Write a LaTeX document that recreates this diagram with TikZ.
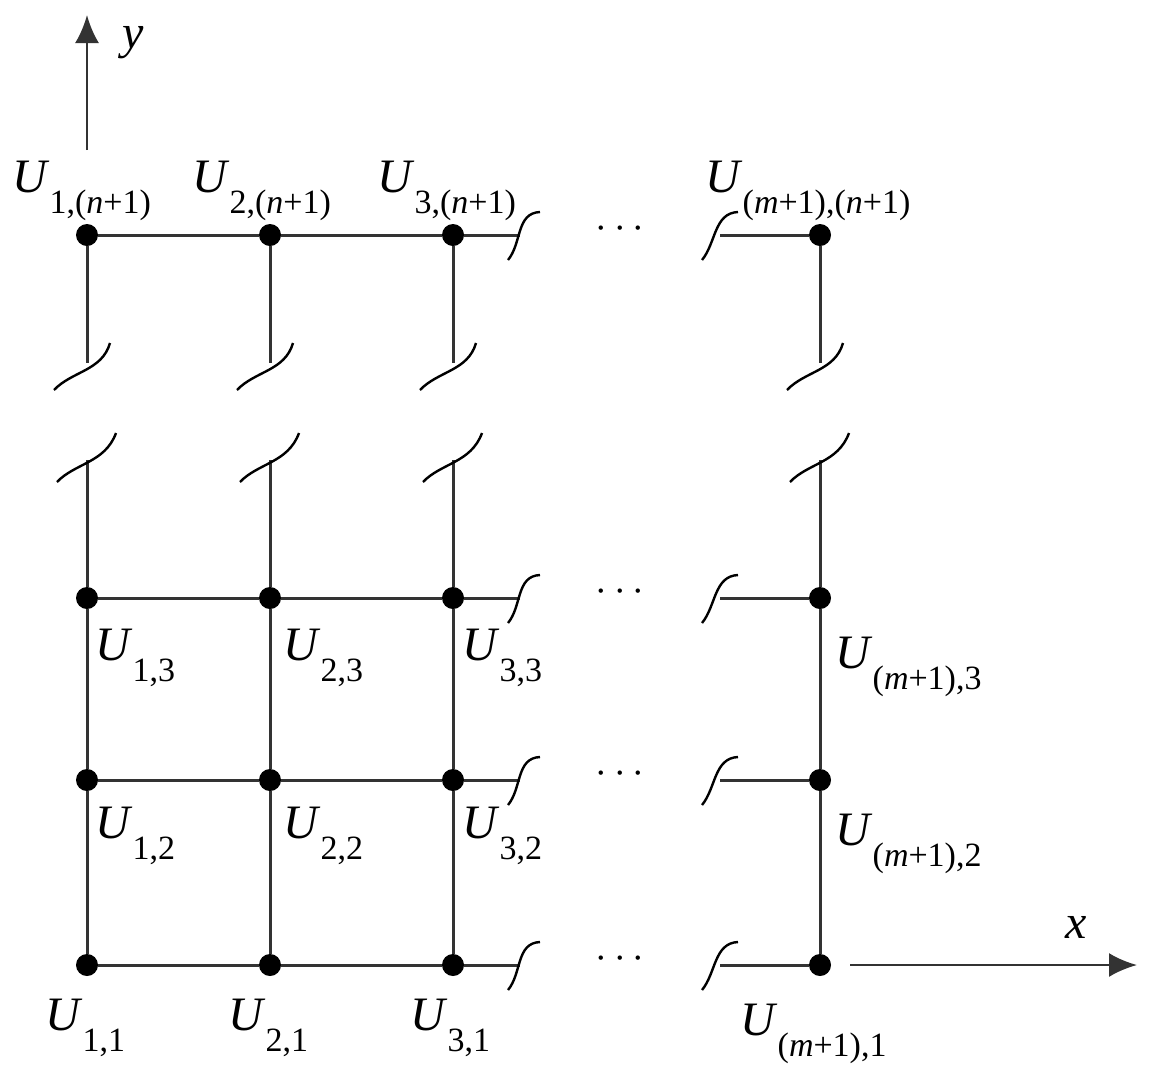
\documentclass[tikz,border=0pt]{standalone}
\usepackage{fontspec}
\setmainfont{Liberation Serif}
\usetikzlibrary{calc,arrows.meta}
\newcommand{\Ulab}[1]{\textit{U}\raisebox{-0.45em}{\fontsize{17}{20}\selectfont #1}}
\begin{document}
\begin{tikzpicture}[x=0.5pt,y=-0.5pt,
  ln/.style={line width=1.5pt,draw=black!80},
  brk/.style={line width=1.2pt},
  pt/.style={circle,fill=black,inner sep=0pt,minimum size=11pt},
  lab/.style={anchor=base west,inner sep=0pt,font=\fontsize{24}{28}\selectfont},
  dotsn/.style={inner sep=0pt,font=\fontsize{20}{24}\selectfont}]
\useasboundingbox (0,0) rectangle (1160,1072);
% grid nodes
\foreach \c/\x in {1/87,2/270,3/453,4/820}{
  \foreach \r/\y in {1/965,2/780,3/598,4/235}{
    \node[pt] (p\c\r) at (\x,\y) {};
  }
}
% horizontal lines and breaks
\foreach \r/\y in {1/965,2/780,3/598,4/235}{
  \coordinate (hl\r) at (520,\y);
  \coordinate (hr\r) at (720,\y);
  \draw[ln] (p1\r) -- (p2\r) -- (p3\r) -- (hl\r);
  \draw[ln] (hr\r) -- (p4\r);
  \draw[brk] ($(hl\r)+(-12,25)$) .. controls ($(hl\r)+(2,8)$) and ($(hl\r)+(-4,-22)$) .. ($(hl\r)+(20,-23)$);
  \draw[brk] ($(hr\r)+(-18,25)$) .. controls ($(hr\r)+(-4,8)$) and ($(hr\r)+(-6,-22)$) .. ($(hr\r)+(18,-23)$);
  \node[dotsn] (d\r) at (620,\y-6) {$\cdots$};
}
% vertical lines with breaks
\foreach \c/\x in {1/87,2/270,3/453,4/820}{
  \coordinate (vt\c) at (\x,363);
  \coordinate (vb\c) at (\x,460);
  \draw[ln] (p\c4) -- (vt\c);
  \draw[ln] (vb\c) -- (p\c3) -- (p\c2) -- (p\c1);
  \draw[brk] ($(vt\c)+(-33,27)$) .. controls ($(vt\c)+(-15,8)$) and ($(vt\c)+(15,8)$) .. ($(vt\c)+(23,-20)$);
  \draw[brk] ($(vb\c)+(-30,22)$) .. controls ($(vb\c)+(-12,3)$) and ($(vb\c)+(18,3)$) .. ($(vb\c)+(29,-27)$);
}
% axes
\coordinate (ys) at (87,150); \coordinate (ye) at (87,15);
\coordinate (xs) at (850,965); \coordinate (xe) at (1137,965);
\draw[ln,line width=1.4pt,-{Latex[length=14pt,width=12pt]}] (ys) -- (ye);
\draw[ln,line width=1.4pt,-{Latex[length=14pt,width=12pt]}] (xs) -- (xe);
\node[lab] (ylab) at (122,48) {\textit{y}};
\node[lab] (xlab) at (1065,938) {\textit{x}};
% labels
\node[lab] (l14) at (12,192) {\Ulab{1,(\textit{n}+1)}};
\node[lab] (l24) at (192,192) {\Ulab{2,(\textit{n}+1)}};
\node[lab] (l34) at (377,192) {\Ulab{3,(\textit{n}+1)}};
\node[lab] (l44) at (705,192) {\Ulab{(\textit{m}+1),(\textit{n}+1)}};
\node[lab] (l13) at (95,660) {\Ulab{1,3}};
\node[lab] (l23) at (283,660) {\Ulab{2,3}};
\node[lab] (l33) at (462,660) {\Ulab{3,3}};
\node[lab] (l43) at (835,668) {\Ulab{(\textit{m}+1),3}};
\node[lab] (l12) at (95,838) {\Ulab{1,2}};
\node[lab] (l22) at (283,838) {\Ulab{2,2}};
\node[lab] (l32) at (462,838) {\Ulab{3,2}};
\node[lab] (l42) at (835,845) {\Ulab{(\textit{m}+1),2}};
\node[lab] (l11) at (45,1030) {\Ulab{1,1}};
\node[lab] (l21) at (228,1030) {\Ulab{2,1}};
\node[lab] (l31) at (410,1030) {\Ulab{3,1}};
\node[lab] (l41) at (740,1035) {\Ulab{(\textit{m}+1),1}};
\end{tikzpicture}
\end{document}
